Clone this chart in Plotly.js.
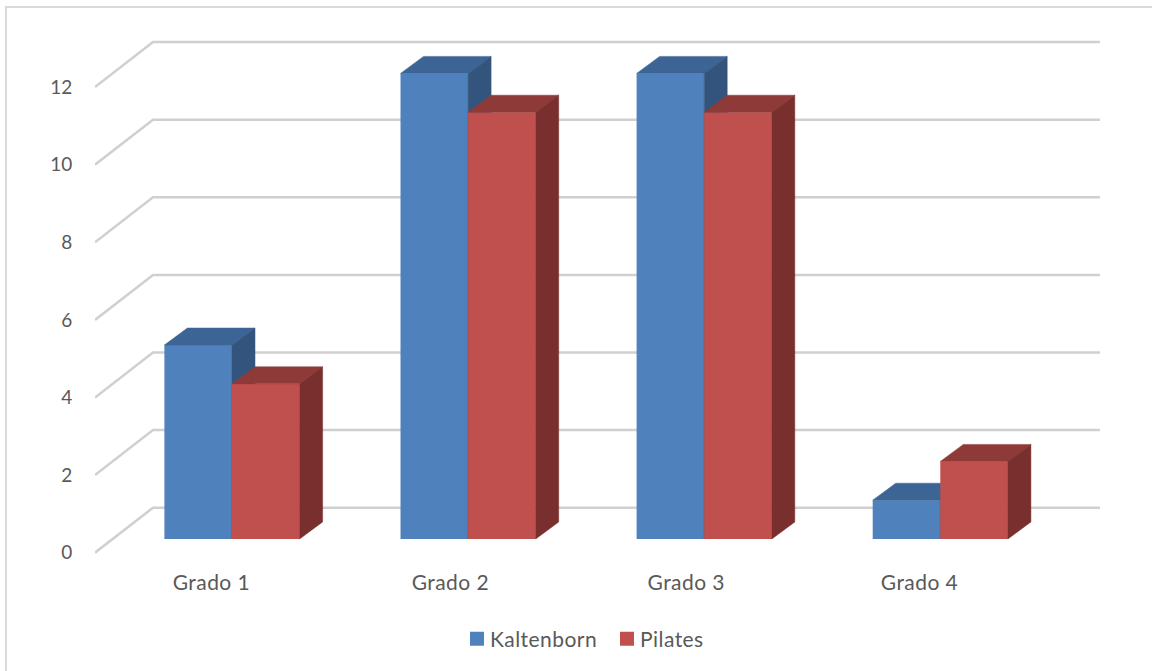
<!DOCTYPE html>
<html>
<head>
<meta charset="utf-8">
<script src="https://cdn.plot.ly/plotly-3.0.1.min.js"></script>
<style>
html,body{margin:0;padding:0;background:#fff}
#chart{width:1152px;height:671px}
#chart .xtick text,#chart .legendtext{letter-spacing:.45px}
</style>
</head>
<body>
<div id="chart"></div>
<script>
// Grades reached per treatment group
const categories = ['Grado 1', 'Grado 2', 'Grado 3', 'Grado 4'];
const kaltenborn = [5, 12, 12, 1];
const pilates = [4, 11, 11, 2];
const valueTicks = [0, 2, 4, 6, 8, 10, 12];

// Plot frame in pixels
const plotLeft = 95, plotRight = 1100, plotTop = 30, plotBottom = 561;
const pxPerCategory = 236.1, pxPerUnit = 38.8;
const firstGroupPx = 232, barFrontZeroPx = 539, wallFrontZeroPx = 552.7;

const xRange = [(plotLeft - firstGroupPx) / pxPerCategory, (plotRight - firstGroupPx) / pxPerCategory];
const yRangeFor = zeroPx => [(zeroPx - plotBottom) / pxPerUnit, (zeroPx - plotTop) / pxPerUnit];

// Extrusion depth of the bars and of the chart walls, in axis units
const barWidth = 67.6 / pxPerCategory;
const barDepthX = 23 / pxPerCategory, barDepthY = 17 / pxPerUnit;
const wallDepthX = 58 / pxPerCategory, wallDepthY = 45 / pxPerUnit;

const tickPositions = [-0.087, 0.925, 1.924, 2.912];

// Floor-to-back-wall guide lines for each value tick
const wallX = [], wallY = [];
valueTicks.forEach(v => {
  wallX.push(xRange[0], xRange[0] + wallDepthX, xRange[1], null);
  wallY.push(v, v + wallDepthY, v + wallDepthY, null);
});

// Top and side faces of a series, traced as closed polygons
function faces(values, left) {
  const top = {x: [], y: []}, side = {x: [], y: []};
  values.forEach((v, i) => {
    const x0 = i + left, x1 = x0 + barWidth;
    top.x.push(x0, x1, x1 + barDepthX, x0 + barDepthX, x0, null);
    top.y.push(v, v, v + barDepthY, v + barDepthY, v, null);
    side.x.push(x1, x1 + barDepthX, x1 + barDepthX, x1, x1, null);
    side.y.push(0, barDepthY, v + barDepthY, v, 0, null);
  });
  return {top, side};
}

function series(name, values, left, yaxis, colors) {
  const f = faces(values, left);
  const poly = (p, c) => ({
    type: 'scatter', mode: 'lines', x: p.x, y: p.y, xaxis: 'x', yaxis,
    fill: 'toself', fillcolor: c, line: {color: c, width: 0.5},
    hoverinfo: 'skip', showlegend: false
  });
  return [
    {type: 'bar', name, x: categories.map((_, i) => i), y: values, xaxis: 'x', yaxis,
     width: barWidth, offset: left, marker: {color: colors.front, line: {width: 0}}},
    poly(f.top, colors.top),
    poly(f.side, colors.side)
  ];
}

const traces = [
  {type: 'scatter', mode: 'lines', x: wallX, y: wallY, xaxis: 'x', yaxis: 'y',
   line: {color: '#d0d0d0', width: 2.5}, hoverinfo: 'skip', showlegend: false},
  ...series('Kaltenborn', kaltenborn, -barWidth, 'y2', {front: '#4f81bd', top: '#3c6494', side: '#33547d'}),
  ...series('Pilates', pilates, 0, 'y3', {front: '#c0504d', top: '#8e3a38', side: '#792f2d'})
];

const textFont = {family: 'Lato, "Open Sans", sans-serif', size: 21, color: '#595959'};
const valueFont = {family: 'Lato, "Open Sans", sans-serif', size: 19, color: '#595959'};
const plotW = plotRight - plotLeft, plotH = plotBottom - plotTop;
const paperX = px => (px - plotLeft) / plotW;
const paperY = px => (plotBottom - px) / plotH;
const frameLine = {type: 'line', xref: 'paper', yref: 'paper', line: {color: '#d9d9d9', width: 2}, layer: 'below'};
const hiddenY = zeroPx => ({
  range: yRangeFor(zeroPx), overlaying: 'y', visible: false, fixedrange: true
});

const layout = {
  width: 1152, height: 671,
  margin: {l: plotLeft, r: 1152 - plotRight, t: plotTop, b: 671 - plotBottom, pad: 0},
  paper_bgcolor: '#fff', plot_bgcolor: 'rgba(0,0,0,0)',
  barmode: 'overlay',
  font: textFont,
  xaxis: {
    range: xRange, fixedrange: true, showgrid: false, zeroline: false, showline: false,
    tickmode: 'array', tickvals: tickPositions, ticktext: categories,
    ticks: 'outside', ticklen: 3, tickcolor: 'rgba(0,0,0,0)', tickfont: textFont
  },
  yaxis: {
    range: yRangeFor(wallFrontZeroPx), fixedrange: true, showgrid: false, zeroline: false, showline: false,
    tickmode: 'array', tickvals: valueTicks, ticktext: valueTicks.map(String),
    ticks: 'outside', ticklen: 18, tickcolor: 'rgba(0,0,0,0)', tickfont: valueFont
  },
  yaxis2: hiddenY(barFrontZeroPx),
  yaxis3: hiddenY(barFrontZeroPx),
  shapes: [
    Object.assign({x0: paperX(6), x1: paperX(6), y0: paperY(6), y1: paperY(680)}, frameLine),
    Object.assign({x0: paperX(5), x1: paperX(1160), y0: paperY(7), y1: paperY(7)}, frameLine)
  ],
  legend: {
    orientation: 'h', xref: 'container', yref: 'container',
    x: 457 / 1152, xanchor: 'left', y: (671 - 639) / 671, yanchor: 'middle',
    entrywidth: 105, entrywidthmode: 'pixels', font: textFont, bgcolor: 'rgba(0,0,0,0)',
    traceorder: 'normal'
  },
  showlegend: true
};

Plotly.newPlot('chart', traces, layout, {displayModeBar: false, staticPlot: true}).then(gd => {
  // Square swatches sit close to their labels
  gd.querySelectorAll('.legendbar, .legendpoints path').forEach(p => p.setAttribute('d', 'M7,7H-7V-7H7Z'));
  gd.querySelectorAll('.legendtext').forEach(t => t.setAttribute('x', 33));
});
</script>
</body>
</html>
